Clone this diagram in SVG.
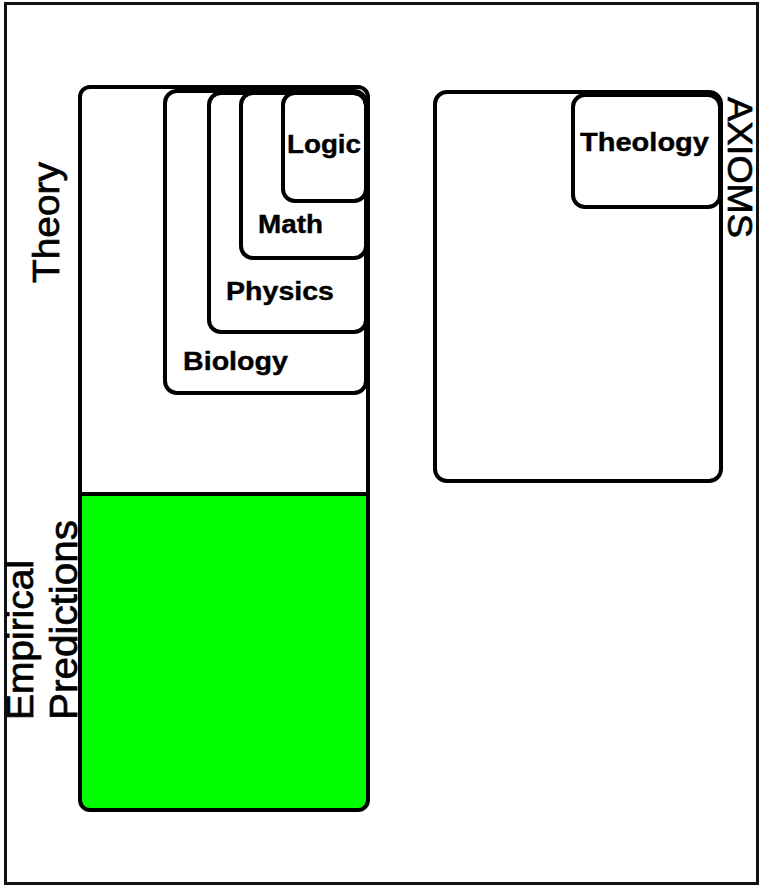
<svg xmlns="http://www.w3.org/2000/svg" width="759" height="886" viewBox="0 0 759 886">
<style>
.box{fill:none;stroke:#000;stroke-width:4}
.lbl{font-family:"Liberation Sans",Arial,sans-serif;font-weight:bold;font-size:26px;fill:#000;stroke:#000;stroke-width:0.4}
.side{font-family:"Liberation Sans",Arial,sans-serif;fill:#000;stroke:#000;stroke-width:0.7}
</style>
<rect x="0" y="0" width="759" height="886" fill="#fff"/>
<rect id="frame" x="5.5" y="3.5" width="752" height="880" fill="none" stroke="#111" stroke-width="3"/>
<g id="theory">
<path d="M80,494 H368 V802 Q368,810 360,810 H90 Q80,810 80,800 Z" fill="#00ff00"/>
<rect class="box" x="80" y="87" width="288" height="723" rx="10"/>
<line x1="80" y1="494" x2="368" y2="494" stroke="#000" stroke-width="4"/>
<text class="side" font-size="37" transform="translate(59,283) rotate(-90)" textLength="121" lengthAdjust="spacingAndGlyphs">Theory</text>
<text class="side" font-size="37" transform="translate(33,720) rotate(-90)" textLength="160" lengthAdjust="spacingAndGlyphs">Empirical</text>
<text class="side" font-size="38" transform="translate(77,720) rotate(-90)" textLength="200" lengthAdjust="spacingAndGlyphs">Predictions</text>
</g>
<g id="biology">
<rect class="box" x="165" y="91" width="201" height="302" rx="12"/>
<text class="lbl" x="183" y="370" textLength="105" lengthAdjust="spacingAndGlyphs">Biology</text>
</g>
<g id="physics">
<rect class="box" x="209" y="93" width="157" height="239" rx="12"/>
<text class="lbl" x="226" y="300" textLength="108" lengthAdjust="spacingAndGlyphs">Physics</text>
</g>
<g id="math">
<rect class="box" x="241" y="93" width="125" height="165" rx="12"/>
<text class="lbl" x="258" y="233" textLength="65" lengthAdjust="spacingAndGlyphs">Math</text>
</g>
<g id="logic">
<rect class="box" x="283" y="93" width="83" height="108" rx="12"/>
<text class="lbl" x="287" y="153" textLength="74" lengthAdjust="spacingAndGlyphs">Logic</text>
</g>
<g id="axioms">
<rect class="box" x="435" y="92" width="286" height="389" rx="12"/>
<text class="side" font-size="35" transform="translate(728,97) rotate(90)" textLength="141" lengthAdjust="spacingAndGlyphs">AXIOMS</text>
</g>
<g id="theology">
<rect class="box" x="573" y="95" width="147" height="112" rx="12"/>
<text class="lbl" x="580" y="151" textLength="129" lengthAdjust="spacingAndGlyphs">Theology</text>
</g>
</svg>
